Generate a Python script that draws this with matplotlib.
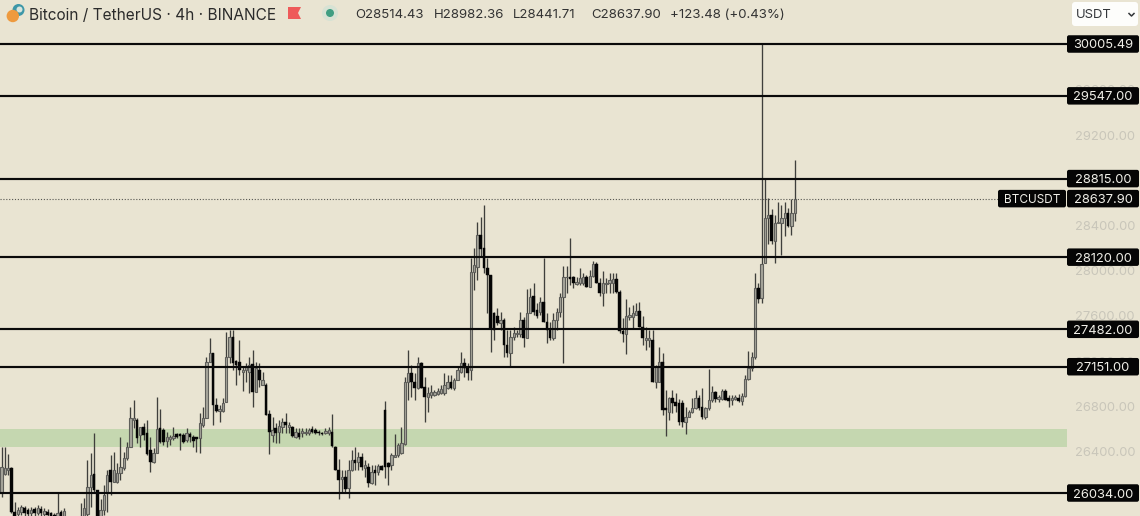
import matplotlib
matplotlib.use("Agg")
import matplotlib.pyplot as plt
from matplotlib.patches import Circle, FancyBboxPatch, Polygon
from matplotlib.lines import Line2D
from matplotlib.transforms import Affine2D, IdentityTransform, blended_transform_factory

opens = [26031,26202,26237,26252,25869,25848,25869,25898,25884,25854,25890,25860,25895,25848,25866,25854,25840,25825,25869,25825,
25700,25740,25700,25720,25760,25800,25850,26090,26202,26060,25820,25880,26030,26237,26134,26134,26208,26252,26341,26444,
26680,26680,26547,26615,26562,26414,26311,26391,26606,26591,26497,26509,26517,26556,26556,26547,26503,26556,26532,26526,
26517,26635,26694,27195,27269,26812,26762,26762,26842,27234,27417,27204,27195,27107,27122,27107,27175,26930,27122,26989,
26989,26730,26547,26606,26576,26621,26665,26621,26621,26532,26568,26562,26562,26562,26597,26591,26576,26562,26562,26562,
26576,26444,26237,26155,26178,26075,26237,26326,26311,26355,26252,26267,26120,26237,26223,26273,26768,26302,26282,26355,
26370,26385,26467,27019,27092,27019,26960,27181,26974,26880,26901,26901,26910,26921,26921,26960,27019,26960,27033,27107,
27181,27151,27122,27992,28036,28316,28198,28027,27962,27623,27600,27535,27564,27343,27269,27417,27440,27440,27564,27402,
27623,27777,27653,27638,27726,27550,27476,27402,27564,27638,27765,27942,27948,27942,27883,27889,27889,27948,27859,27953,
28060,27894,27806,27883,27889,27894,27924,27815,27470,27440,27588,27588,27608,27647,27505,27387,27387,27387,27019,27019,
27190,26783,26753,26871,26842,26827,26827,26665,26709,26753,26783,26871,26798,26703,26783,26857,26930,26862,26862,26939,
26871,26857,26862,26877,26851,26892,27039,27137,27234,27844,27756,28065,28463,28493,28266,28419,28425,28463,28513,28395,
28514.43]
highs = [26444,26444,26379,26267,25957,25913,25928,25919,25898,25913,25907,25925,25922,25900,25890,25870,25860,26031,25884,25898,
25780,25770,25760,25790,25943,25987,26326,26385,26562,26060,25980,26105,26237,26370,26400,26296,26532,26400,26488,26792,
26856,26694,26621,26650,26680,26532,26429,26880,26774,26606,26576,26547,26621,26562,26562,26562,26606,26576,26547,26532,
26744,26792,27234,27402,27269,26871,26812,26871,27461,27476,27476,27210,27387,27151,27187,27240,27299,27195,27181,27107,
27004,26768,26709,26650,26680,26694,26739,26665,26627,26606,26606,26606,26606,26606,26627,26606,26591,26576,26606,26621,
26730,26450,26332,26237,26237,26326,26414,26444,26400,26385,26326,26296,26282,26282,26290,26282,26848,26311,26385,26556,
26473,26621,27063,27299,27166,27092,27240,27195,27063,26974,26989,26945,26960,26989,27092,27078,27078,27048,27151,27284,
27225,27181,28110,28198,28434,28478,28581,28110,27962,27638,27667,27638,27579,27476,27476,27505,27476,27638,27594,27835,
27844,27894,27712,27771,28110,27623,27550,27623,27667,27800,28042,28042,28292,27953,27948,28021,27977,27962,28007,28089,
28080,27933,27998,27933,27977,27983,27977,27830,27579,27747,27682,27697,27718,27726,27600,27505,27476,27476,27166,27328,
27269,26945,26886,26945,26916,26862,26857,26798,26768,26871,26945,26901,26960,26798,27131,26980,26939,26901,26951,26951,
26901,26901,26901,26907,26916,27078,27293,27284,27977,27894,30005.49,28817,28640,28543,28493,28605,28581,28611,28552,28631,
28982.36]
lows = [26000,26193,26193,25854,25819,25825,25840,25825,25825,25825,25825,25840,25825,25825,25815,25805,25760,25800,25780,25780,
25660,25650,25650,25680,25720,25750,25800,25913,26031,25780,25790,25840,25869,26016,26134,26120,26149,26240,26330,26438,
26606,26473,26444,26503,26370,26223,26300,26385,26473,26458,26444,26458,26503,26517,26414,26480,26488,26488,26444,26400,
26385,26621,26694,27190,26635,26753,26665,26753,26835,27181,27122,26989,27078,26939,27019,26915,26798,26925,26974,26989,
26724,26379,26488,26473,26473,26562,26562,26562,26526,26517,26509,26526,26547,26547,26568,26556,26547,26547,26556,26547,
26444,26237,25980,26031,26046,25987,26231,26237,26237,26237,26178,26090,26115,26105,26193,26237,26164,26105,26237,26349,
26349,26380,26458,26856,26886,26856,26950,26960,26665,26753,26871,26892,26901,26910,26901,26951,26951,26945,27033,27092,
27063,27033,27034,27830,27918,28124,27977,27623,27284,27387,27520,27476,27240,27240,27157,27387,27417,27417,27328,27402,
27623,27608,27579,27608,27550,27358,27387,27387,27476,27594,27181,27800,27874,27844,27874,27874,27874,27853,27859,27948,
27894,27777,27691,27800,27800,27800,27800,27446,27373,27264,27564,27491,27608,27499,27343,27299,27328,27019,26960,27019,
26724,26538,26680,26739,26753,26635,26621,26556,26703,26739,26774,26768,26686,26686,26768,26842,26842,26842,26857,26857,
26792,26812,26857,26842,26812,26886,27033,27116,27220,27712,27712,28065,28236,28236,28071,28419,28139,28307,28384,28316,
28441.71]
closes = [26267,26252,26252,25869,25831,25884,25907,25860,25848,25884,25854,25898,25854,25878,25836,25831,25800,25854,25825,25878,
25740,25700,25720,25760,25830,25900,26090,26193,26060,25830,25884,26016,26193,26134,26237,26208,26267,26341,26444,26694,
26694,26517,26615,26547,26379,26311,26385,26597,26488,26488,26526,26526,26538,26526,26538,26488,26562,26526,26497,26509,
26650,26694,27195,27269,26812,26762,26780,26827,27234,27417,27181,27166,27122,27122,27151,27166,26930,27137,27033,27033,
26724,26576,26591,26562,26627,26665,26635,26635,26538,26576,26526,26585,26573,26591,26576,26568,26562,26556,26585,26591,
26450,26237,26149,26178,26066,26237,26326,26296,26355,26261,26282,26120,26223,26214,26273,26237,26267,26261,26370,26370,
26458,26473,27019,27092,27019,26960,27181,26960,26886,26915,26930,26930,26939,26951,26989,27019,26960,27033,27122,27181,
27137,27092,27992,28051,28316,28189,28021,27962,27491,27476,27535,27564,27343,27269,27417,27446,27452,27564,27402,27623,
27771,27638,27600,27726,27550,27476,27402,27564,27638,27765,27942,27948,27924,27894,27897,27933,27942,27859,27953,28060,
27894,27806,27889,27894,27918,27924,27815,27470,27440,27600,27608,27623,27647,27505,27402,27402,27402,27019,27151,27190,
26768,26768,26871,26827,26804,26665,26665,26709,26753,26783,26871,26783,26703,26783,26857,26930,26862,26880,26939,26857,
26851,26871,26880,26851,26892,27039,27137,27234,27844,27747,28059,28463,28493,28266,28425,28434,28463,28513,28395,28513,
28637.90]

levels = [30005.49, 29547.00, 28815.00, 28120.00, 27482.00, 27151.00, 26034.00]
level_labels = ["30005.49", "29547.00", "28815.00", "28120.00", "27482.00", "27151.00", "26034.00"]
last_price = 28637.90
last_label = "28637.90"
symbol = "BTCUSDT"
zone_low, zone_high = 26437, 26600
axis_ticks = [29600, 29200, 28400, 28000, 27600, 27200, 26800, 26400]
title = "Bitcoin / TetherUS · 4h · BINANCE"
ohlc_parts = ["O28514.43", "H28982.36", "L28441.71", "C28637.90", "+123.48 (+0.43%)"]
ohlc_x = [355, 434, 513, 591, 670]

BG = "#e9e4d2"
W, H = 1140, 516
STEP = 3.305
X0 = 1.5
PX_PRICE = 8.845

plt.rcParams["font.family"] = ["Inter", "DejaVu Sans"]
fig = plt.figure(figsize=(W / 100, H / 100), dpi=100, facecolor=BG)
ax = fig.add_axes([0, 0, 1, 1], facecolor=BG)
for s in ax.spines.values():
    s.set_visible(False)

ax.set_xlim(-X0 / STEP, (W - X0) / STEP)
top_price = 30005.49 + 44 * PX_PRICE
ax.set_ylim(top_price - H * PX_PRICE, top_price)

px = Affine2D().scale(1, -1).translate(0, H)
xpx_ydata = blended_transform_factory(IdentityTransform(), ax.transData)
line_end = 1067 / W

# zone and levels
ax.axhspan(zone_low, zone_high, xmin=0, xmax=line_end, color="#c5d7b0", lw=0, zorder=1)

# candles
xs = list(range(len(opens)))
ax.vlines(xs, lows, highs, colors="#3f3f3c", linewidth=0.95, zorder=2)
up_x = [i for i in xs if closes[i] >= opens[i]]
dn_x = [i for i in xs if closes[i] < opens[i]]
ax.bar(up_x, [closes[i] - opens[i] for i in up_x], bottom=[opens[i] for i in up_x], width=0.72,
       facecolor="#a8a69c", edgecolor="#5f5f5b", linewidth=0.8, zorder=3)
ax.bar(dn_x, [opens[i] - closes[i] for i in dn_x], bottom=[closes[i] for i in dn_x], width=0.8,
       facecolor="#050505", edgecolor="#050505", linewidth=0.3, zorder=3)

for lv in levels:
    ax.axhline(lv, xmin=0, xmax=line_end, color="#0a0a0a", lw=1.55, zorder=4)
ax.axhline(last_price, xmin=0, xmax=998 / W, color="#555550", lw=0.8, ls=(0, (1, 1.6)), zorder=4)

# price axis
ax.set_axisbelow(True)
ax.set_xticks([])
ax.yaxis.tick_right()
ax.set_yticks(axis_ticks)
ax.set_yticklabels([f"{t:.2f}" for t in axis_ticks])
ax.tick_params(axis="y", length=0, pad=-47, labelsize=9.3, labelcolor="#c9c6ba")
for t in ax.get_yticklabels():
    t.set_horizontalalignment("left")


def tag(x0, x1, price, text, size=9.3):
    h = 17.5 * PX_PRICE
    ax.add_patch(FancyBboxPatch((x0, price - h / 2), x1 - x0, h,
                                boxstyle="round,pad=0,rounding_size=2", mutation_aspect=PX_PRICE,
                                transform=xpx_ydata, fc="#050505", ec="none", zorder=6))
    ax.text((x0 + x1) / 2, price, text, transform=xpx_ydata, color="#f0efe8", fontsize=size,
            ha="center", va="center_baseline", zorder=7)


for lv, lab in zip(levels, level_labels):
    tag(1067, 1139, lv, lab)
tag(1067, 1139, last_price, last_label)
tag(998, 1066, last_price, symbol, size=8.5)

# header
ax.text(29, 14, title, transform=px, fontsize=11.1, color="#2b2b2b", va="center_baseline", zorder=7)
for x, part in zip(ohlc_x, ohlc_parts):
    ax.text(x, 14, part, transform=px, fontsize=9.5, color="#333333", va="center_baseline", zorder=7)

ax.add_patch(Circle((18.5, 10), 6, transform=px, fc="#3d97a8", ec="none", zorder=7))
ax.add_patch(Circle((19.5, 9.5), 3, transform=px, fc="#d8e4dc", ec="none", zorder=7.1))
ax.add_patch(Circle((12.8, 16), 6.2, transform=px, fc="#ee9a3e", ec="none", zorder=7.2))
ax.add_patch(Polygon([(288, 7), (301, 7), (298, 13), (301, 19), (288, 19)], closed=True,
                     transform=px, fc="#ee5a5a", ec="none", zorder=7))
ax.add_patch(Circle((330, 13), 8, transform=px, fc="#d7e2d4", ec="none", zorder=7))
ax.add_patch(Circle((330, 13), 4, transform=px, fc="#3f9e82", ec="none", zorder=7.1))

# currency selector
ax.add_patch(FancyBboxPatch((1072, 2), 66, 24, boxstyle="round,pad=0,rounding_size=3",
                            transform=px, fc="#fdfdfb", ec="none", zorder=7))
ax.text(1076, 14, "USDT", transform=px, fontsize=9.4, color="#33363a", va="center_baseline", zorder=8)
ax.add_line(Line2D([1129, 1131.5, 1134], [13.5, 16, 13.5], transform=px, color="#33363a", lw=1.1, zorder=8))

fig.savefig("out.png", dpi=100, facecolor=BG)
